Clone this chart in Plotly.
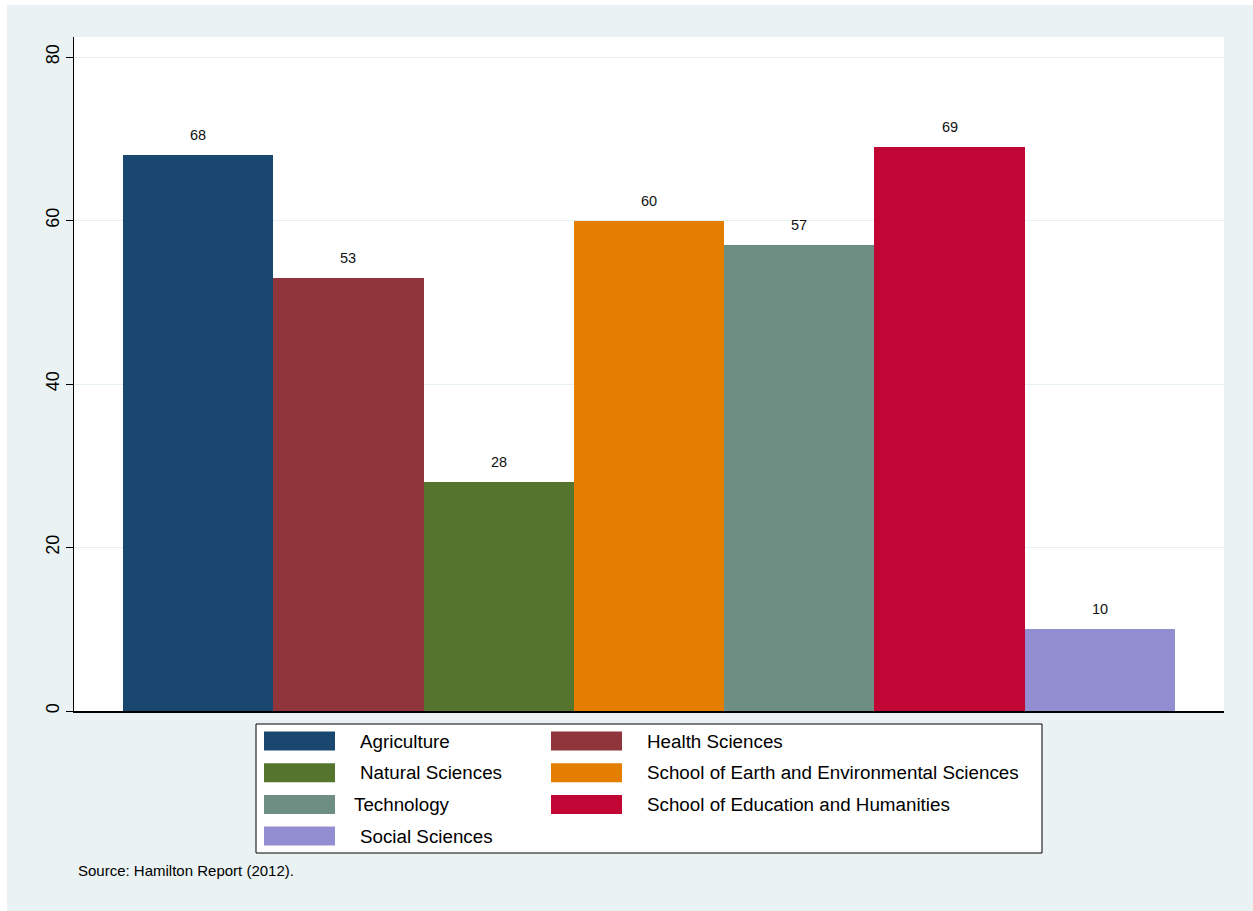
import plotly.graph_objects as go

# Data
categories = [
    "Agriculture",
    "Health Sciences",
    "Natural Sciences",
    "School of Earth and Environmental Sciences",
    "Technology",
    "School of Education and Humanities",
    "Social Sciences",
]
values = [68, 53, 28, 60, 57, 69, 10]
colors = ["#1a476f", "#90353b", "#55752f", "#e37e00", "#6e8e84", "#c10534", "#938dd2"]
y_ticks = [0, 20, 40, 60, 80]
source_note = "Source: Hamilton Report (2012)."

# Page geometry (pixels)
W, H = 1253, 911
PL, PR, PT, PB = 74, 1224, 37, 711
PW, PH = PR - PL, PB - PT

FONT = "Liberation Sans, Arial, sans-serif"
BG = "#eaf2f3"


def px(x):
    return (x - PL) / PW


def py(y):
    return (PB - y) / PH


fig = go.Figure()
for i, (cat, val, col) in enumerate(zip(categories, values, colors)):
    fig.add_trace(go.Bar(
        x=[i], y=[val], name=cat, width=1,
        marker=dict(color=col, line=dict(width=0)),
        showlegend=False, hoverinfo="name+y",
    ))

annotations = []
# value labels above each bar
for i, val in enumerate(values):
    annotations.append(dict(
        x=i, y=val, xref="x", yref="y", text=str(val), showarrow=False,
        yshift=20, font=dict(family=FONT, size=14.5, color="#111111"),
    ))

shapes = []
# white page edge on the left and top
shapes.append(dict(type="rect", xref="paper", yref="paper", layer="below",
                   x0=px(0), x1=px(7), y0=py(H), y1=py(0),
                   fillcolor="white", line=dict(width=0)))
shapes.append(dict(type="rect", xref="paper", yref="paper", layer="below",
                   x0=px(0), x1=px(W), y0=py(5), y1=py(0),
                   fillcolor="white", line=dict(width=0)))

# legend box, two columns filled row by row
shapes.append(dict(type="rect", xref="paper", yref="paper",
                   x0=px(256), x1=px(1042), y0=py(853), y1=py(724),
                   fillcolor="white", line=dict(color="black", width=1)))
swatch_x = [264, 551]
text_x = [358, 645]
row_y0 = 741
row_step = 31.7
for k, (cat, col) in enumerate(zip(categories, colors)):
    r, c = divmod(k, 2)
    cy = row_y0 + r * row_step
    shapes.append(dict(type="rect", xref="paper", yref="paper",
                       x0=px(swatch_x[c]), x1=px(swatch_x[c] + 71),
                       y0=py(cy + 9.5), y1=py(cy - 9.5),
                       fillcolor=col, line=dict(width=0)))
    indent = -6 if cat == "Technology" else 0
    annotations.append(dict(
        x=px(text_x[c] + indent), y=py(cy), xref="paper", yref="paper",
        xanchor="left", yanchor="middle", text=cat, showarrow=False,
        font=dict(family=FONT, size=18.8, color="black"),
    ))

annotations.append(dict(
    x=px(76), y=py(870), xref="paper", yref="paper", xanchor="left",
    yanchor="middle", text=source_note, showarrow=False,
    font=dict(family=FONT, size=15, color="black"),
))

fig.update_layout(
    width=W, height=H,
    margin=dict(l=PL, r=W - PR, t=PT, b=H - PB, pad=0),
    paper_bgcolor=BG, plot_bgcolor="white",
    bargap=0, barmode="overlay",
    font=dict(family=FONT, color="black"),
    shapes=shapes, annotations=annotations,
    xaxis=dict(range=[-0.826, 6.826], showticklabels=False, ticks="",
               showgrid=False, zeroline=False, showline=True,
               linecolor="black", linewidth=1.5),
    yaxis=dict(range=[0, 82.45], tickvals=y_ticks, tickangle=-90,
               ticks="outside", ticklen=7, tickcolor="black", tickwidth=1,
               showline=True, linecolor="black", linewidth=1,
               showgrid=True, gridcolor="#e6eff1", gridwidth=1,
               zeroline=False, tickfont=dict(family=FONT, size=18, color="black")),
)

fig.write_html("out.html")
